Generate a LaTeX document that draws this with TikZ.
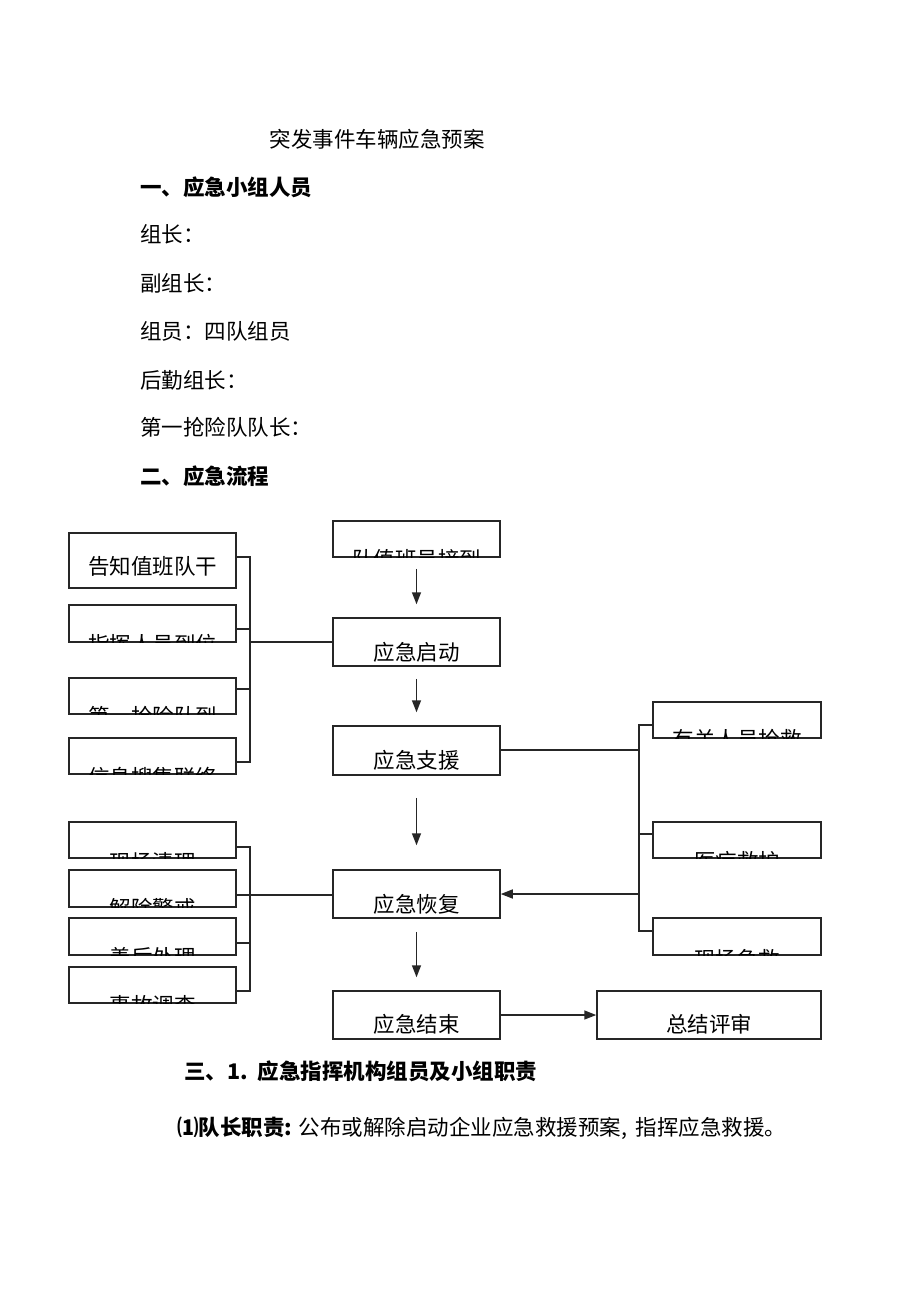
\documentclass[tikz,border=0pt]{standalone}
\usepackage{fontspec}
\setmainfont{Noto Sans CJK SC}
\usetikzlibrary{arrows.meta}
\tikzset{
  boxst/.style={draw=black!85, line width=1.5pt, rectangle, inner sep=0pt},
  txt/.style={inner sep=0pt, font=\fontsize{21.5}{25}\selectfont},
  hd/.style={inner sep=0pt, anchor=west, font=\fontsize{21.5}{25}\selectfont},
  hdb/.style={inner sep=0pt, anchor=west, font=\fontsize{21.5}{25}\selectfont\bfseries},
  ln/.style={draw=black!85, line width=1.5pt},
  arr/.style={ln, -{Triangle[length=12pt,width=9pt]}},
}
% name, cx, cy, w, h, text-centre y, text
\newcommand\flowbox[7]{%
  \node[boxst, minimum width=#4pt, minimum height=#5pt] (#1) at (#2,#3) {};
  \begin{scope}
    \clip (#1.south west) rectangle (#1.north east);
    \node[txt] (#1-t) at (#2,#6) {#7};
  \end{scope}
}
\begin{document}
\begin{tikzpicture}[x=1pt,y=-1pt]
\useasboundingbox[fill=white] (0,0) rectangle (920,1302);

% ---------- text ----------
\node[txt] (title) at (377,139) {突发事件车辆应急预案};
\node[hdb] (h1) at (140,187) {一、应急小组人员};
\node[hd] (p1) at (140,234) {组长：};
\node[hd] (p2) at (140,283) {副组长：};
\node[hd] (p3) at (140,331) {组员：四队组员};
\node[hd] (p4) at (140,380) {后勤组长：};
\node[hd] (p5) at (140,427) {第一抢险队队长：};
\node[hdb] (h2) at (140,476) {二、应急流程};
\node[hdb] (h3) at (184,1071) {三、1.\, 应急指挥机构组员及小组职责};
\node[hd] (p6) at (177,1128) {\textbf{⑴队长职责:} 公布或解除启动企业应急救援预案,\, 指挥应急救援。};

% ---------- boxes ----------
\flowbox{a1}{152.5}{560.5}{167}{55}{566}{告知值班队干}
\flowbox{a2}{152.5}{623.5}{167}{37}{644}{指挥人员到位}
\flowbox{a3}{152.5}{696}{167}{36}{716}{第一抢险队到}
\flowbox{a4}{152.5}{756}{167}{36}{777}{信息搜集联络}

\flowbox{c0}{416.5}{539}{167}{36}{559}{队值班员接到}
\flowbox{c1}{416.5}{642}{167}{48}{652}{应急启动}
\flowbox{c2}{416.5}{750.5}{167}{49}{760}{应急支援}
\flowbox{c3}{416.5}{894}{167}{48}{904}{应急恢复}
\flowbox{c4}{416.5}{1015}{167}{48}{1024}{应急结束}
\flowbox{s}{709}{1015}{224}{48}{1024}{总结评审}

\flowbox{r1}{737}{720}{168}{36}{739}{有关人员抢救}
\flowbox{r2}{737}{840}{168}{36}{861}{医疗救护}
\flowbox{r3}{737}{936.5}{168}{37}{959}{现场急救}

\flowbox{l1}{152.5}{840}{167}{36}{862}{现场清理}
\flowbox{l2}{152.5}{888.5}{167}{37}{908}{解除警戒}
\flowbox{l3}{152.5}{936.5}{167}{37}{957}{善后处理}
\flowbox{l4}{152.5}{985}{167}{36}{1005}{事故调查}

% ---------- bracket junctions ----------
\coordinate (ua1) at (250,557);
\coordinate (ua2) at (250,629);
\coordinate (ua3) at (250,689);
\coordinate (ua4) at (250,762);
\coordinate (um) at (250,642);

\coordinate (rb1) at (639,725);
\coordinate (rb2) at (639,834);
\coordinate (rb3) at (639,931);
\coordinate (rm) at (639,750);
\coordinate (rar) at (639,894);

\coordinate (lb1) at (250,847);
\coordinate (lb2) at (250,895);
\coordinate (lb3) at (250,943);
\coordinate (lb4) at (250,991);

% ---------- upper left bracket ----------
\draw[ln] (a1.east |- ua1) -- (ua1) -- (ua4) -- (a4.east |- ua4);
\draw[ln] (a2.east |- ua2) -- (ua2);
\draw[ln] (a3.east |- ua3) -- (ua3);
\draw[ln] (um) -- (c1.west |- um);

% ---------- right bracket ----------
\draw[ln] (r1.west |- rb1) -- (rb1) -- (rb3) -- (r3.west |- rb3);
\draw[ln] (r2.west |- rb2) -- (rb2);
\draw[ln] (c2.east |- rm) -- (rm);
\draw[arr] (rar) -- (c3.east |- rar);

% ---------- lower left bracket ----------
\draw[ln] (l1.east |- lb1) -- (lb1) -- (lb4) -- (l4.east |- lb4);
\draw[ln] (l3.east |- lb3) -- (lb3);
\draw[ln] (l2.east |- lb2) -- (c3.west |- lb2);

% ---------- vertical arrows ----------
\draw[arr, shorten <=11pt, shorten >=13pt] (c0.south) -- (c1.north);
\draw[arr, shorten <=12pt, shorten >=13pt] (c1.south) -- (c2.north);
\draw[arr, shorten <=22pt, shorten >=24pt] (c2.south) -- (c3.north);
\draw[arr, shorten <=13pt, shorten >=13pt] (c3.south) -- (c4.north);
\draw[arr] (c4.east) -- (s.west);
\end{tikzpicture}
\end{document}
